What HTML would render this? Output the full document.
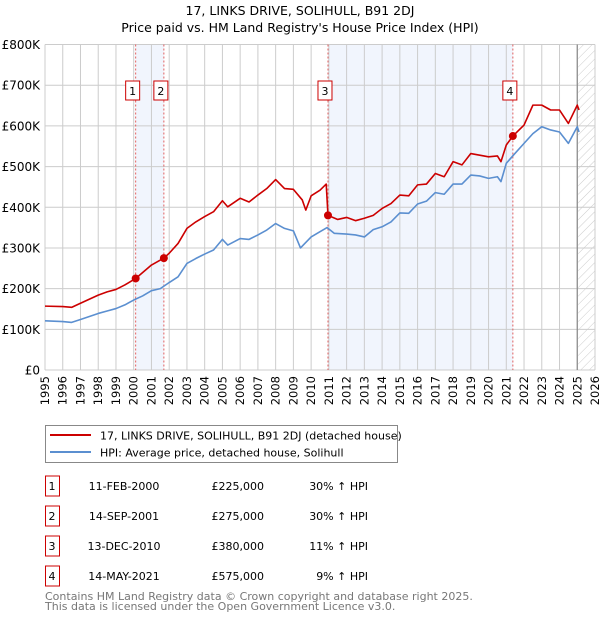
<!DOCTYPE html>
<html><head><meta charset="utf-8"><style>
body{margin:0;width:600px;height:620px;background:#fff;font-family:"DejaVu Sans","Liberation Sans",sans-serif;overflow:hidden}
svg text{font-family:"DejaVu Sans","Liberation Sans",sans-serif}
</style></head><body>
<svg id="chart" width="600" height="620" xmlns="http://www.w3.org/2000/svg">
<defs><pattern id="hatch" width="6" height="6" patternUnits="userSpaceOnUse" patternTransform="rotate(45)"><line x1="0" y1="0" x2="0" y2="6" stroke="#ccc" stroke-width="1"/></pattern></defs>
<text x="300" y="15" text-anchor="middle" font-size="12.5">17, LINKS DRIVE, SOLIHULL, B91 2DJ</text>
<text x="300" y="32" text-anchor="middle" font-size="12.5">Price paid vs. HM Land Registry's House Price Index (HPI)</text>
<g id="plot"></g>
<rect x="45.5" y="425.5" width="352" height="37" fill="#fff" stroke="#888"/>
<line x1="50" y1="435" x2="91" y2="435" stroke="#cc0000" stroke-width="2"/>
<text x="100" y="439.5" font-size="11">17, LINKS DRIVE, SOLIHULL, B91 2DJ (detached house)</text>
<line x1="50" y1="452" x2="91" y2="452" stroke="#5b8fd0" stroke-width="2"/>
<text x="100" y="456.5" font-size="11">HPI: Average price, detached house, Solihull</text>
<g id="table" font-size="11"></g>
<text x="45" y="600" font-size="11" fill="#777">Contains HM Land Registry data © Crown copyright and database right 2025.</text>
<text x="45" y="610" font-size="11" fill="#777">This data is licensed under the Open Government Licence v3.0.</text>
</svg>
<script>
const years=[1995,1996,1997,1998,1999,2000,2001,2002,2003,2004,2005,2006,2007,2008,2009,2010,2011,2012,2013,2014,2015,2016,2017,2018,2019,2020,2021,2022,2023,2024,2025,2026];
const yTicks=[0,100,200,300,400,500,600,700,800];
const yTickLabels=["£0","£100K","£200K","£300K","£400K","£500K","£600K","£700K","£800K"];
const hpiT=[1995,1996,1996.5,1997,1998,1998.5,1999,1999.5,2000,2000.5,2001,2001.5,2002,2002.5,2003,2003.5,2004,2004.5,2005,2005.3,2006,2006.5,2007,2007.5,2008,2008.5,2009,2009.4,2010,2010.5,2010.9,2011.3,2012,2012.5,2013,2013.5,2014,2014.5,2015,2015.5,2016,2016.5,2017,2017.5,2018,2018.5,2019,2019.5,2020,2020.5,2020.7,2021,2021.4,2022,2022.5,2023,2023.5,2024,2024.5,2025,2025.1];
const hpiV=[121,119,117,124,139,145,151,160,172,182,195,200,215,229,262,274,285,295,321,307,323,321,332,344,360,348,342,300,327,340,350,336,334,332,327,345,352,364,386,385,408,415,436,432,457,457,479,477,471,475,463,508,528,557,581,598,590,585,557,598,585];
const ppT=[1995,1996,1996.5,1997,1998,1998.5,1999,1999.5,2000.11,2001,2001.7,2002,2002.5,2003,2003.5,2004,2004.5,2005,2005.3,2006,2006.5,2007,2007.5,2008,2008.5,2009,2009.5,2009.7,2010,2010.5,2010.85,2010.95,2011.5,2012,2012.5,2013,2013.5,2014,2014.5,2015,2015.5,2016,2016.5,2017,2017.5,2018,2018.5,2019,2019.5,2020,2020.5,2020.7,2021,2021.37,2022,2022.5,2023,2023.5,2024,2024.5,2025,2025.1];
const ppV=[157,156,154,164,184,192,198,209,225,258,275,287,311,348,364,377,389,416,401,422,413,430,446,468,446,444,418,393,428,442,457,380,370,375,367,373,380,397,409,430,428,455,457,483,475,512,504,532,528,524,526,512,553,575,602,651,651,639,639,606,651,639];
const saleT=[2000.11,2001.70,2010.95,2021.37];
const saleV=[225,275,380,575];
const saleLabels=["1","2","3","4"];
const saleDates=["11-FEB-2000","14-SEP-2001","13-DEC-2010","14-MAY-2021"];
const salePrices=["£225,000","£275,000","£380,000","£575,000"];
const saleHpi=["30% ↑ HPI","30% ↑ HPI","11% ↑ HPI","9% ↑ HPI"];

const X0=45,X1=595,Y0=370,Y1=44.5;
const x=t=>X0+(t-1995)/(2026-1995)*(X1-X0);
const y=v=>Y0-v/800*(Y0-Y1);
const NS="http://www.w3.org/2000/svg";
const plot=document.getElementById('plot');
function mk(tag,at,parent){const e=document.createElementNS(NS,tag);for(const k in at)e.setAttribute(k,at[k]);(parent||plot).appendChild(e);return e;}

// shaded bands
for(let i=0;i<saleT.length;i+=2){
 const r=mk('rect',{x:x(saleT[i]),y:Y1,width:x(saleT[i+1])-x(saleT[i]),height:Y0-Y1,fill:'#eef3fd',opacity:0.8});
 
 
}
// hatch future
const hz=mk('rect',{x:x(2025.05),y:Y1,width:X1-x(2025.05),height:Y0-Y1,fill:'url(#hatch)'});


// grid
years.forEach(t=>{const l=mk('line',{x1:x(t),x2:x(t),y1:Y1,y2:Y0,stroke:'#cccccc','stroke-width':1});
 
 
 const tx=mk('text',{x:0,y:0,'font-size':11.5,'text-anchor':'end',transform:`translate(${x(t)+4},${Y0+6}) rotate(-90)`});tx.textContent=t;
 
 
});
yTicks.forEach((v,i)=>{const l=mk('line',{x1:X0,x2:X1,y1:y(v),y2:y(v),stroke:'#cccccc','stroke-width':1});
 
 
 const tx=mk('text',{x:40,y:y(v)+4.5,'font-size':12,'text-anchor':'end'});tx.textContent=yTickLabels[i];
 
 
});
const cl=mk('line',{x1:x(2025.0),x2:x(2025.0),y1:Y1,y2:Y0,stroke:'#888','stroke-width':1.2});


// sale dashed lines & labels
saleT.forEach((t,i)=>{const l=mk('line',{x1:x(t),x2:x(t),y1:Y1,y2:Y0,stroke:'#e06060','stroke-width':1,'stroke-dasharray':'2,2'});
 
 
 const b=mk('rect',{x:x(t)-10,y:81,width:14,height:19,fill:'#fff',stroke:'#cc0000','stroke-width':1});
 
 
 const tx=mk('text',{x:x(t)-3,y:95,'font-size':11,'text-anchor':'middle'});tx.textContent=saleLabels[i];
 
 
});
function line(T,V,c,name){const p=mk('polyline',{points:T.map((t,i)=>x(t)+','+y(V[i])).join(' '),fill:'none',stroke:c,'stroke-width':1.6,'stroke-linejoin':'round'});
 
 }
line(hpiT,hpiV,'#5b8fd0','hpi-line');
line(ppT,ppV,'#cc0000','price-paid-line');
saleT.forEach((t,i)=>{const c=mk('circle',{cx:x(t),cy:y(saleV[i]),r:4,fill:'#cc0000'});
 
 
});
const tb=document.getElementById('table');
saleT.forEach((t,i)=>{const yy=483+i*30;
 const b=mk('rect',{x:45.5,y:yy-7,width:14,height:20,fill:'#fff',stroke:'#cc0000'},tb);
 
 
 const cells=[[52,'middle',saleLabels[i],'table-row-number'],[124,'middle',saleDates[i],'table-sale-date'],[264,'end',salePrices[i],'table-sale-price'],[368,'end',saleHpi[i],'table-hpi-change']];
 cells.forEach(c=>{const tx=mk('text',{x:c[0],y:yy+7,'text-anchor':c[1]},tb);tx.textContent=c[2];
  
  });
});
</script>
</body></html>
